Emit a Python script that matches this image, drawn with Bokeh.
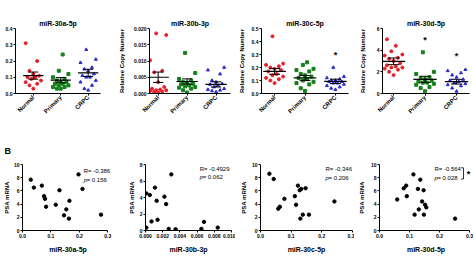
from bokeh.plotting import figure
from bokeh.models import Range1d, FixedTicker, Label
from bokeh.layouts import row, column
from bokeh.embed import file_html
from bokeh.resources import INLINE
import math

FONT = "Liberation Sans"

GROUPS = ["Normal", "Primary", "CRPC"]
GROUP_COLORS = ["#e8202a", "#15801a", "#2b2bd0"]
GROUP_MARKERS = ["circle", "square", "triangle"]

# ---------------- Panel A: relative copy number ----------------
mir30a_normal = [0.31, 0.20, 0.14, 0.12, 0.11, 0.10, 0.10, 0.09, 0.08, 0.07, 0.06, 0.05, 0.03]
mir30a_primary = [0.24, 0.14, 0.12, 0.10, 0.09, 0.08, 0.07, 0.07, 0.06, 0.06, 0.05, 0.05, 0.04, 0.04, 0.03, 0.03]
mir30a_crpc = [0.27, 0.21, 0.19, 0.16, 0.15, 0.14, 0.12, 0.11, 0.10, 0.10, 0.08, 0.07, 0.05, 0.03, 0.02]
mir30a_mean = [0.110, 0.082, 0.127]
mir30a_sem = [0.022, 0.016, 0.022]

mir30b_normal = [0.0185, 0.018, 0.0102, 0.007, 0.0065, 0.0035, 0.002, 0.0015, 0.0012, 0.001, 0.001, 0.0008, 0.0006, 0.0005, 0.0003]
mir30b_primary = [0.0125, 0.0063, 0.0045, 0.004, 0.0035, 0.0033, 0.003, 0.0028, 0.0025, 0.0022, 0.002, 0.0018, 0.0015, 0.001, 0.0003]
mir30b_crpc = [0.008, 0.0072, 0.006, 0.004, 0.0035, 0.003, 0.0028, 0.0025, 0.002, 0.0015, 0.0012, 0.001, 0.0008, 0.0005]
mir30b_mean = [0.0050, 0.0037, 0.0028]
mir30b_sem = [0.0016, 0.0008, 0.0008]

mir30c_normal = [0.44, 0.23, 0.22, 0.21, 0.20, 0.19, 0.18, 0.17, 0.15, 0.14, 0.13, 0.12, 0.11, 0.10, 0.08]
mir30c_primary = [0.24, 0.22, 0.19, 0.18, 0.17, 0.15, 0.14, 0.13, 0.12, 0.11, 0.10, 0.09, 0.08, 0.07, 0.04, 0.02]
mir30c_crpc = [0.20, 0.13, 0.12, 0.11, 0.10, 0.10, 0.09, 0.09, 0.08, 0.08, 0.07, 0.06, 0.05, 0.04, 0.03]
mir30c_mean = [0.170, 0.120, 0.093]
mir30c_sem = [0.022, 0.019, 0.017]

mir30d_normal = [5.0, 4.4, 3.9, 3.6, 3.5, 3.3, 3.2, 3.0, 2.8, 2.6, 2.5, 2.4, 2.4, 2.3, 2.2, 2.0, 1.7]
mir30d_primary = [3.8, 2.0, 1.8, 1.5, 1.4, 1.3, 1.2, 1.1, 1.0, 1.0, 0.9, 0.8, 0.6, 0.5, 0.2]
mir30d_crpc = [2.2, 2.1, 1.9, 1.7, 1.5, 1.3, 1.2, 1.1, 1.0, 0.9, 0.8, 0.7, 0.5, 0.2]
mir30d_mean = [2.97, 1.31, 1.09]
mir30d_sem = [0.31, 0.28, 0.22]

ticks_30a = [0.0, 0.1, 0.2, 0.3, 0.4]
labels_30a = ["0.0", "0.1", "0.2", "0.3", "0.4"]
ticks_30b = [0.0, 0.005, 0.010, 0.015, 0.020]
labels_30b = ["0.000", "0.005", "0.010", "0.015", "0.020"]
ticks_30c = [0.0, 0.1, 0.2, 0.3, 0.4, 0.5]
labels_30c = ["0.0", "0.1", "0.2", "0.3", "0.4", "0.5"]
ticks_30d = [0, 2, 4, 6]
labels_30d = ["0", "2", "4", "6"]

# ---------------- Panel B: correlation with PSA mRNA ----------------
b30a_x = [0.029, 0.040, 0.068, 0.076, 0.079, 0.083, 0.117, 0.130, 0.146, 0.154, 0.165, 0.163, 0.197, 0.211, 0.276]
b30a_y = [7.7, 6.5, 6.8, 5.2, 4.8, 3.6, 3.9, 6.1, 2.3, 3.2, 4.5, 1.8, 8.5, 6.3, 2.4]
b30b_x = [0.0001, 0.0001, 0.0005, 0.0007, 0.0011, 0.0013, 0.0014, 0.0022, 0.0024, 0.0027, 0.0030, 0.0035, 0.0065, 0.0068, 0.0084]
b30b_y = [4.5, 0.35, 4.3, 1.1, 5.2, 3.6, 1.3, 4.1, 3.2, 0.2, 6.8, 0.15, 0.2, 1.05, 0.35]
b30c_x = [0.029, 0.043, 0.058, 0.063, 0.078, 0.112, 0.116, 0.122, 0.128, 0.133, 0.130, 0.138, 0.147, 0.158, 0.241]
b30c_y = [8.6, 7.8, 3.3, 3.6, 4.8, 5.2, 3.9, 6.8, 6.1, 6.3, 1.8, 2.4, 6.4, 2.4, 4.4]
b30d_x = [0.059, 0.081, 0.089, 0.091, 0.113, 0.117, 0.128, 0.131, 0.136, 0.142, 0.147, 0.148, 0.152, 0.156, 0.252]
b30d_y = [4.7, 6.4, 6.8, 5.2, 8.5, 2.4, 6.3, 3.2, 7.7, 4.4, 6.1, 2.4, 3.9, 3.5, 1.8]

b_names = ["miR-30a-5p", "miR-30b-3p", "miR-30c-5p", "miR-30d-5p"]
b_r = ["R= -0.386", "R= -0.4929", "R= -0.346", "R= -0.564"]
b_p = ["= 0.156", "= 0.062", "= 0.206", "= 0.028"]

xt_b_a = [0.0, 0.1, 0.2, 0.3]
xl_b_a = ["0.0", "0.1", "0.2", "0.3"]
xt_b_b = [0.0, 0.002, 0.004, 0.006, 0.008, 0.010]
xl_b_b = ["0.000", "0.002", "0.004", "0.006", "0.008", "0.010"]
yt_b10 = [0, 2, 4, 6, 8, 10]
yl_b10 = ["0", "2", "4", "6", "8", "10"]
yt_b8 = [0, 2, 4, 6, 8]
yl_b8 = ["0", "2", "4", "6", "8"]

SPREAD = [0.0, -0.14, 0.14, -0.28, 0.28, -0.07, 0.07, -0.21, 0.21]


def spread_x(center, vals):
    order = sorted(range(len(vals)), key=lambda k: vals[k])
    xs = [0.0] * len(vals)
    for rank, k in enumerate(order):
        xs[k] = center + SPREAD[rank % len(SPREAD)]
    return xs


def style(p):
    for ax in (p.xaxis[0], p.yaxis[0]):
        ax.axis_line_color = "black"
        ax.axis_line_width = 1
        ax.major_tick_line_color = "black"
        ax.major_tick_in = 0
        ax.major_tick_out = 2
        ax.minor_tick_line_color = None
        ax.major_label_text_font = FONT
        ax.major_label_text_font_size = "5px"
        ax.major_label_text_font_style = "bold"
        ax.major_label_text_color = "black"
        ax.major_label_standoff = 1
        ax.axis_label_text_font = FONT
        ax.axis_label_text_font_style = "bold"
        ax.axis_label_text_font_size = "6px"
        ax.axis_label_text_color = "black"
    p.xgrid.grid_line_color = None
    p.ygrid.grid_line_color = None
    p.outline_line_color = None
    p.background_fill_color = "white"
    p.border_fill_color = "white"


def ticks(ax, t, l):
    ax.ticker = FixedTicker(ticks=t)
    ax.major_label_overrides = {v: s for v, s in zip(t, l)}


def dot_panel(title, series, means, sems, ytop, yt, yl, w, h, bl, br, bt, bb, xr, ylabel, ylab_standoff, stars):
    p = figure(width=w, height=h, output_backend="svg", toolbar_location=None,
               min_border_left=bl, min_border_right=br, min_border_top=bt, min_border_bottom=bb,
               x_range=Range1d(*xr), y_range=Range1d(0, ytop))
    style(p)
    p.title.text = title
    p.title.align = "center"
    p.title.text_font = FONT
    p.title.text_font_size = "7px"
    p.title.text_font_style = "bold"
    p.title.text_color = "black"
    p.title.standoff = 3
    ticks(p.yaxis[0], yt, yl)
    ticks(p.xaxis[0], [0, 1, 2], GROUPS)
    p.xaxis[0].major_label_orientation = math.pi / 4
    p.xaxis[0].major_label_text_font_size = "6px"
    if ylabel:
        p.yaxis[0].axis_label = ylabel
        p.yaxis[0].axis_label_standoff = ylab_standoff
    for i, vals in enumerate(series):
        p.scatter(spread_x(i, vals), vals, marker=GROUP_MARKERS[i], size=3.0,
                  color=GROUP_COLORS[i])
    cx = list(range(3))
    p.segment([c - 0.37 for c in cx], means, [c + 0.37 for c in cx], means, line_color="black", line_width=1.2)
    lo = [m - s for m, s in zip(means, sems)]
    hi = [m + s for m, s in zip(means, sems)]
    p.segment(cx, lo, cx, hi, line_color="black", line_width=1)
    p.segment([c - 0.18 for c in cx], lo, [c + 0.18 for c in cx], lo, line_color="black", line_width=1)
    p.segment([c - 0.18 for c in cx], hi, [c + 0.18 for c in cx], hi, line_color="black", line_width=1)
    for (sx, sy) in stars:
        p.add_layout(Label(x=sx, y=sy, text="*", text_font=FONT, text_font_size="9px",
                           text_font_style="bold", text_color="black", text_align="center",
                           text_baseline="middle"))
    return p


def scatter_panel(xs, ys, name, rtxt, ptxt, xr, xb, yr, xt, xl, yt, yl, w, h, bl, br, bt, bb, ann_x, ann_y,
                  ylab_standoff):
    p = figure(width=w, height=h, output_backend="svg", toolbar_location=None,
               min_border_left=bl, min_border_right=br, min_border_top=bt, min_border_bottom=bb,
               x_range=Range1d(*xr), y_range=Range1d(*yr))
    style(p)
    ticks(p.xaxis[0], xt, xl)
    ticks(p.yaxis[0], yt, yl)
    p.xaxis[0].bounds = xb
    p.xaxis[0].axis_label = name
    p.xaxis[0].axis_label_text_font_size = "7px"
    p.xaxis[0].axis_label_standoff = 5
    p.yaxis[0].axis_label = "PSA mRNA"
    p.yaxis[0].axis_label_standoff = ylab_standoff
    p.scatter(xs, ys, marker="circle", size=3.4, color="black")
    p.add_layout(Label(x=ann_x, y=ann_y[0], text=rtxt, text_font=FONT, text_font_size="6px",
                       text_color="black", text_baseline="middle"))
    p.add_layout(Label(x=ann_x, y=ann_y[1], text="p", text_font=FONT, text_font_size="6px",
                       text_color="black", text_font_style="italic", text_baseline="middle"))
    p.add_layout(Label(x=ann_x, y=ann_y[1], x_offset=3, text=ptxt, text_font=FONT, text_font_size="6px",
                       text_color="black", text_baseline="middle"))
    return p


pa1 = dot_panel("miR-30a-5p", [mir30a_normal, mir30a_primary, mir30a_crpc], mir30a_mean, mir30a_sem,
                0.4, ticks_30a, labels_30a, 115, 125, 15, 15, 25, 31, (-0.65, 2.45), None, 0, [])
pa2 = dot_panel("miR-30b-3p", [mir30b_normal, mir30b_primary, mir30b_crpc], mir30b_mean, mir30b_sem,
                0.020, ticks_30b, labels_30b, 120, 125, 33, 5, 28, 32, (-0.3, 2.5), "Relative Copy Number", 6, [])
pa3 = dot_panel("miR-30c-5p", [mir30c_normal, mir30c_primary, mir30c_crpc], mir30c_mean, mir30c_sem,
                0.5, ticks_30c, labels_30c, 119, 125, 26, 6, 22, 32, (-0.43, 2.43), "Relative Copy Number", 4,
                [(2, 0.30)])
pa4 = dot_panel("miR-30d-5p", [mir30d_normal, mir30d_primary, mir30d_crpc], mir30d_mean, mir30d_sem,
                6, ticks_30d, labels_30d, 120, 125, 28, 5, 24, 32, (-0.35, 2.41), "Relative Copy Number", 8,
                [(1, 4.95), (2, 3.45)])

pb1 = scatter_panel(b30a_x, b30a_y, b_names[0], b_r[0], b_p[0], (0, 0.32), (0, 0.3), (0, 10), xt_b_a, xl_b_a,
                    yt_b10, yl_b10, 115, 133, 15, 2, 37, 28, 0.215, (9.05, 7.7), 1)
pb2 = scatter_panel(b30b_x, b30b_y, b_names[1], b_r[1], b_p[1], (0, 0.010), (0, 0.010), (0, 8), xt_b_b, xl_b_b,
                    yt_b8, yl_b8, 120, 133, 30, 4, 39, 27, 0.0063, (7.5, 6.45), 2)
pb3 = scatter_panel(b30c_x, b30c_y, b_names[2], b_r[2], b_p[2], (0, 0.3), (0, 0.3), (0, 10), xt_b_a, xl_b_a,
                    yt_b10, yl_b10, 119, 133, 25, 2, 38, 27, 0.212, (9.3, 8.0), 2)
pb4 = scatter_panel(b30d_x, b30d_y, b_names[3], b_r[3], b_p[3], (0, 0.31), (0, 0.3), (0, 10), xt_b_a, xl_b_a,
                    yt_b10, yl_b10, 120, 133, 25, 2, 38, 27, 0.183, (9.3, 8.0), 3)

# significance bracket on the last correlation panel
pb4.segment([0.272, 0.280, 0.272], [9.5, 9.5, 7.8], [0.280, 0.280, 0.280], [9.5, 7.8, 7.8],
            line_color="black", line_width=0.8)
pb4.add_layout(Label(x=0.297, y=8.5, text="*", text_font=FONT, text_font_size="9px",
                     text_font_style="bold", text_color="black", text_align="center", text_baseline="middle"))

# panel letter "B" as the first correlation plot's title
pb1.title.text = "B"
pb1.title.align = "left"
pb1.title.offset = -18
pb1.title.standoff = 18
pb1.title.text_font = FONT
pb1.title.text_font_size = "9px"
pb1.title.text_font_style = "bold"
pb1.title.text_color = "black"

layout = column(row(pa1, pa2, pa3, pa4), row(pb1, pb2, pb3, pb4))

with open("out.html", "w") as f:
    f.write(file_html(layout, INLINE))
